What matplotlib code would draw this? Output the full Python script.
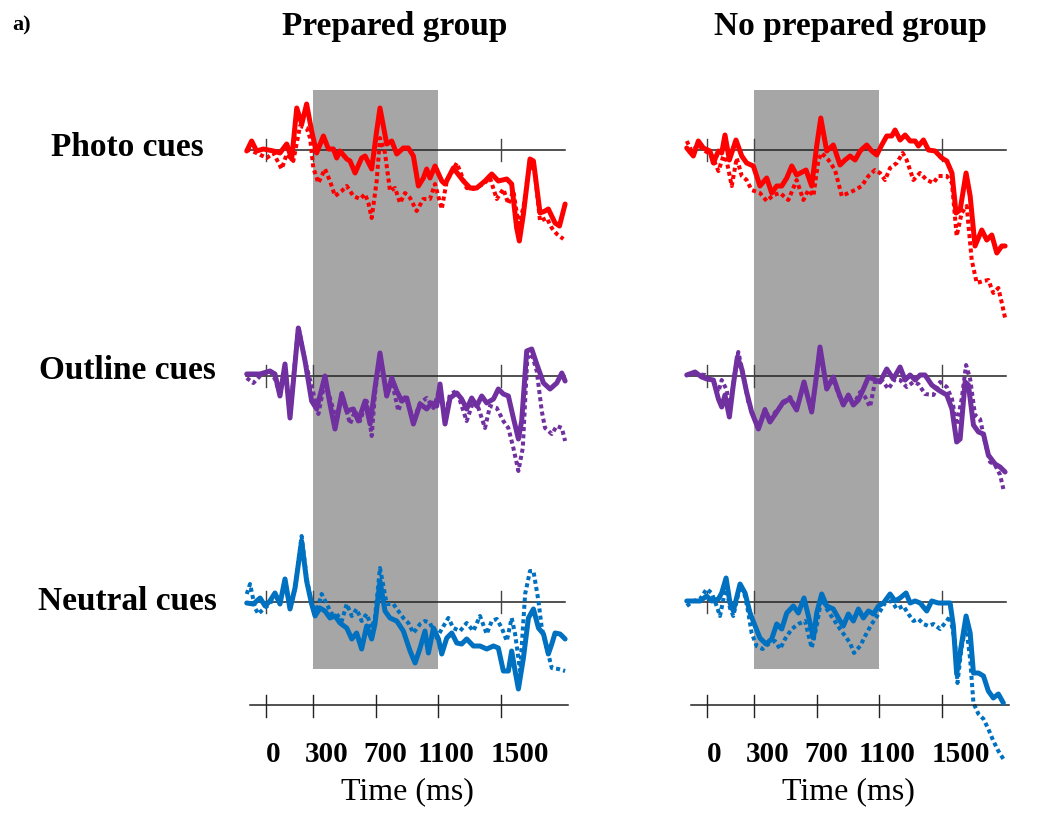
import matplotlib
matplotlib.use("Agg")
import matplotlib.pyplot as plt
from matplotlib.patches import Rectangle

# ---------------- data (time in ms, amplitude in µV) ----------------
groups = ["Prepared group", "No prepared group"]
conditions = ["Photo cues", "Outline cues", "Neutral cues"]
colors = ["#ff0000", "#7030a0", "#0070c0"]
tick_values = [0, 300, 700, 1100, 1500]
tick_labels = ["0", "300", "700", "1100", "1500"]
window_ms = [300, 1100]

# Prepared group
prep_photo_solid_t = [-123, -92, -60, -17, 47, 89, 132, 164, 196, 228, 259, 291, 323, 366, 398, 430, 451, 472, 515, 536, 568, 610, 632, 674, 706, 727, 770, 802, 834, 876, 908, 940, 972, 1004, 1025, 1046, 1078, 1121, 1142, 1195, 1259, 1302, 1344, 1397, 1440, 1482, 1536, 1567, 1599, 1616, 1642, 1684, 1706, 1748, 1780, 1801, 1844, 1872, 1908]
prep_photo_solid_v = [-0.1, 0.9, -0.1, 0.1, -0.1, -0.3, 0.6, -0.9, 4.2, 2.6, 4.6, 1.9, -0.3, 1.4, 0.1, 0.1, -0.8, -0.1, -0.9, -1.1, -2.3, -0.8, -0.6, -1.9, 1.9, 4.2, 0.6, 0.9, -0.4, 0.2, 0.2, -0.6, -3.6, -2.8, -1.9, -2.8, -1.6, -3.1, -3.4, -1.8, -3.1, -3.8, -3.8, -3.1, -2.4, -3.1, -2.9, -3.4, -7.8, -9.1, -6.4, -0.9, -1.1, -6.3, -6.1, -5.9, -7.3, -7.6, -5.4]
prep_photo_dot_t = [-123, -60, 4, 47, 100, 132, 174, 217, 259, 281, 302, 334, 376, 408, 440, 483, 515, 557, 600, 632, 653, 674, 706, 727, 759, 791, 823, 855, 887, 919, 961, 1004, 1046, 1078, 1121, 1153, 1217, 1280, 1323, 1387, 1429, 1472, 1514, 1546, 1578, 1610, 1642, 1684, 1716, 1748, 1791, 1823, 1855, 1897]
prep_photo_dot_v = [0.1, -0.3, -0.8, -0.3, -1.9, -0.4, -1.1, 2.4, 2.2, 1.2, -1.8, -3.3, -1.9, -3.1, -4.6, -4.1, -3.6, -4.6, -4.9, -4.4, -5.3, -6.8, -3.1, 1.2, -0.3, -4.1, -3.8, -5.3, -4.3, -4.8, -6.1, -4.9, -4.9, -3.4, -5.9, -3.1, -1.3, -3.8, -3.9, -3.4, -2.8, -4.9, -3.9, -5.4, -4.1, -7.4, -5.8, -1.1, -2.4, -7.1, -6.8, -7.8, -8.4, -8.9]

prep_outline_solid_t = [-123, -38, 25, 57, 89, 121, 153, 206, 249, 291, 323, 376, 408, 440, 483, 515, 557, 589, 632, 664, 695, 727, 770, 802, 834, 866, 898, 940, 983, 1025, 1057, 1089, 1110, 1142, 1174, 1217, 1248, 1280, 1312, 1344, 1376, 1408, 1451, 1482, 1514, 1546, 1578, 1610, 1631, 1663, 1695, 1727, 1770, 1812, 1855, 1887, 1908]
prep_outline_solid_v = [0.2, 0.2, 0.5, 0.2, -2.0, 1.2, -4.2, 4.8, 1.5, -2.5, -3.3, 0.0, -2.8, -5.3, -1.8, -3.5, -3.3, -4.5, -2.5, -4.8, -1.2, 2.3, -2.0, -0.2, -1.5, -2.5, -2.2, -4.8, -2.8, -3.3, -2.7, -3.0, -0.8, -4.8, -2.2, -1.7, -2.3, -3.3, -2.2, -3.0, -2.0, -2.7, -2.3, -1.3, -1.8, -2.0, -4.2, -6.3, -4.5, 2.5, 2.7, 1.2, -0.7, -1.3, -0.7, 0.3, -0.5]
prep_outline_dot_t = [-123, -81, -38, 25, 57, 89, 121, 153, 206, 249, 291, 334, 376, 419, 451, 483, 536, 568, 600, 642, 674, 695, 727, 770, 802, 844, 876, 908, 940, 983, 1025, 1068, 1110, 1142, 1174, 1217, 1280, 1323, 1355, 1397, 1429, 1472, 1514, 1546, 1578, 1610, 1638, 1667, 1695, 1727, 1759, 1780, 1823, 1855, 1887, 1908]
prep_outline_dot_v = [-0.2, -0.7, 0.0, 0.5, -0.3, -1.8, 0.8, -3.8, 5.0, 1.5, -1.0, -3.8, -0.5, -2.8, -4.5, -1.7, -4.8, -3.5, -4.5, -2.5, -6.0, -1.8, 2.2, -2.0, -0.5, -3.5, -2.0, -2.8, -4.5, -2.7, -2.2, -3.2, -1.2, -4.2, -1.8, -1.5, -4.5, -2.5, -3.2, -5.2, -3.0, -3.2, -4.5, -5.2, -7.2, -9.5, -7.2, 1.8, 2.2, 0.5, -3.5, -5.2, -5.8, -5.0, -5.2, -6.5]

prep_neutral_solid_t = [-123, -81, -38, -6, 25, 57, 89, 121, 153, 185, 227, 259, 291, 313, 344, 376, 408, 440, 472, 515, 547, 578, 610, 642, 674, 695, 727, 759, 791, 834, 876, 919, 951, 983, 1014, 1036, 1068, 1100, 1121, 1153, 1185, 1217, 1248, 1280, 1323, 1365, 1408, 1451, 1482, 1514, 1546, 1567, 1589, 1610, 1642, 1674, 1706, 1738, 1770, 1801, 1823, 1844, 1876, 1908]
prep_neutral_solid_v = [-0.1, -0.2, 0.4, -0.4, 0.1, 0.9, -0.2, 2.3, -0.7, 1.4, 6.1, 2.1, -0.2, -1.4, -0.6, -0.9, -1.6, -1.4, -2.1, -2.6, -3.7, -3.1, -4.7, -2.4, -3.7, -2.2, 2.1, -0.9, -1.6, -1.9, -2.9, -4.9, -6.1, -4.6, -2.9, -5.1, -2.6, -3.7, -5.2, -3.6, -3.1, -4.1, -4.2, -3.7, -4.4, -4.4, -4.7, -4.4, -4.6, -6.9, -6.9, -4.9, -6.9, -8.7, -5.6, -1.6, -0.7, -2.6, -3.2, -5.2, -4.2, -3.1, -3.2, -3.7]
prep_neutral_dot_t = [-123, -102, -70, -49, -17, 25, 57, 89, 121, 153, 185, 227, 259, 291, 323, 355, 387, 419, 451, 483, 515, 547, 578, 610, 642, 674, 695, 727, 770, 812, 844, 876, 908, 940, 983, 1014, 1046, 1089, 1121, 1163, 1195, 1238, 1280, 1323, 1365, 1408, 1440, 1472, 1504, 1536, 1567, 1589, 1621, 1653, 1684, 1706, 1738, 1759, 1791, 1823, 1865, 1908]
prep_neutral_dot_v = [0.8, 1.8, -0.6, -1.2, -0.7, -0.2, 0.8, -0.2, 2.1, -0.6, 1.4, 6.6, 2.4, -0.2, -0.9, 0.8, -0.2, -1.2, -1.2, -1.9, -0.2, -1.4, -0.7, -1.9, -1.2, -2.6, -1.6, 3.4, -0.2, -0.2, -0.9, -1.6, -2.1, -3.1, -2.2, -1.9, -2.1, -3.6, -2.7, -1.6, -2.6, -2.9, -2.1, -2.9, -1.4, -3.2, -1.9, -1.7, -2.6, -3.9, -1.6, -3.2, -6.9, 0.8, 3.1, 3.1, 0.1, -2.6, -4.6, -6.6, -6.7, -6.9]

# No prepared group
noprep_photo_solid_t = [-129, -87, -55, -23, 19, 41, 73, 94, 115, 143, 185, 222, 253, 296, 338, 381, 413, 445, 477, 509, 541, 572, 632, 668, 700, 726, 764, 806, 849, 881, 913, 945, 977, 1019, 1051, 1083, 1115, 1147, 1179, 1200, 1232, 1264, 1296, 1328, 1349, 1381, 1413, 1455, 1498, 1530, 1563, 1589, 1615, 1653, 1679, 1710, 1753, 1785, 1817, 1849, 1881, 1902]
noprep_photo_solid_v = [0.2, -0.6, 0.9, 0.2, -0.1, -1.3, -0.1, -0.3, 1.5, -1.0, 1.0, -0.6, -1.3, -1.6, -3.6, -2.8, -4.3, -3.6, -3.6, -2.8, -1.6, -2.5, -2.0, -3.6, 0.4, 3.2, -0.1, 0.5, -1.5, -1.0, -0.6, -1.0, -0.1, 0.5, -0.1, -0.5, 0.5, 1.4, 1.4, 2.0, 1.0, 1.5, 0.9, 0.9, 0.4, 1.0, 0.0, -0.1, -0.8, -1.1, -2.3, -6.3, -6.0, -2.3, -4.6, -9.6, -8.0, -9.0, -8.5, -10.3, -9.6, -9.6]
noprep_photo_dot_t = [-129, -98, -55, -12, 30, 73, 105, 126, 158, 190, 222, 253, 285, 338, 381, 424, 466, 519, 572, 615, 647, 679, 711, 732, 775, 817, 860, 902, 945, 987, 1030, 1072, 1104, 1136, 1168, 1211, 1249, 1274, 1317, 1359, 1402, 1445, 1476, 1530, 1563, 1593, 1625, 1657, 1689, 1721, 1764, 1795, 1827, 1859, 1881, 1902]
noprep_photo_dot_v = [0.9, -0.1, 0.5, -0.1, -0.5, -2.1, -0.6, -1.1, -3.6, -0.8, -2.6, -3.0, -4.0, -4.3, -5.1, -4.5, -4.3, -5.0, -3.0, -5.0, -4.0, -4.6, -1.0, -0.3, -1.0, -2.0, -4.6, -4.3, -4.0, -3.6, -2.6, -2.0, -2.3, -3.0, -1.8, -1.3, -0.3, -1.0, -3.0, -2.3, -3.0, -3.3, -2.6, -2.6, -3.3, -8.6, -6.3, -5.6, -11.0, -13.3, -13.1, -13.0, -14.3, -13.8, -15.3, -16.8]

noprep_outline_solid_t = [-129, -76, -34, 0, 41, 73, 94, 115, 143, 168, 194, 222, 253, 285, 328, 370, 402, 445, 487, 530, 572, 619, 668, 696, 721, 764, 806, 838, 870, 902, 934, 966, 998, 1030, 1062, 1104, 1147, 1189, 1232, 1264, 1296, 1328, 1360, 1391, 1434, 1476, 1530, 1563, 1593, 1615, 1647, 1668, 1700, 1732, 1764, 1795, 1838, 1870, 1902]
noprep_outline_solid_v = [0.1, 0.4, -0.1, -0.3, -0.4, -2.3, -3.1, -1.9, -4.1, -0.9, 1.9, 0.7, -1.6, -3.6, -5.3, -3.4, -4.6, -3.6, -2.6, -2.3, -3.4, -0.6, -3.6, -0.3, 2.9, -1.3, -0.1, -1.6, -2.9, -1.9, -2.9, -2.4, -1.3, -0.1, -0.3, -0.6, 0.7, -0.3, 0.9, -0.4, 0.1, -0.4, 0.1, 0.1, -0.9, -1.4, -1.9, -3.3, -6.6, -6.3, -0.6, -0.9, -4.9, -5.6, -5.8, -7.9, -8.8, -9.1, -9.6]
noprep_outline_dot_t = [-129, -76, -12, 41, 73, 94, 126, 147, 179, 200, 232, 264, 328, 370, 402, 445, 487, 530, 572, 619, 668, 696, 721, 764, 806, 838, 870, 902, 934, 977, 1009, 1040, 1072, 1115, 1157, 1200, 1232, 1274, 1317, 1349, 1391, 1445, 1487, 1530, 1563, 1593, 1625, 1653, 1679, 1710, 1742, 1774, 1806, 1838, 1870, 1891]
noprep_outline_dot_v = [0.1, 0.2, 0.1, -0.6, -1.6, -0.4, -1.4, -3.3, 0.4, 2.4, 0.1, -2.6, -5.3, -3.3, -4.4, -3.4, -2.8, -2.1, -3.3, -0.8, -3.6, -0.3, 2.7, -1.3, -0.3, -1.8, -2.9, -2.1, -2.9, -1.6, -2.1, -3.1, -0.6, -0.4, -1.3, -0.3, -0.4, -1.1, -0.6, -0.8, -1.8, -1.9, -0.6, -1.1, -2.3, -4.9, -2.3, 1.1, -0.3, -3.9, -4.3, -6.6, -8.6, -8.9, -9.9, -11.3]

noprep_neutral_solid_t = [-129, -44, -2, 30, 73, 94, 122, 147, 168, 211, 243, 275, 307, 338, 377, 413, 445, 477, 509, 551, 583, 619, 647, 679, 700, 732, 764, 806, 838, 870, 902, 934, 966, 998, 1030, 1062, 1094, 1126, 1168, 1200, 1232, 1270, 1296, 1328, 1360, 1402, 1434, 1476, 1519, 1551, 1572, 1593, 1625, 1653, 1679, 1700, 1732, 1764, 1795, 1827, 1859, 1891]
noprep_neutral_solid_v = [0.1, 0.1, 0.6, 0.1, 0.3, 0.9, 2.4, -0.1, -0.9, 1.8, 0.9, -1.1, -2.4, -3.6, -4.2, -3.7, -2.2, -2.7, -1.1, -0.4, -1.1, 0.4, -1.4, -3.6, -1.1, 0.8, -0.4, -0.7, -1.6, -2.4, -1.2, -1.9, -0.7, -1.6, -0.9, -1.2, -0.4, -0.1, 0.8, 0.1, 0.4, 0.9, -0.1, 0.1, -0.1, -0.9, 0.1, -0.1, -0.1, -0.1, -2.4, -7.2, -4.1, -1.4, -3.1, -7.1, -7.1, -7.4, -8.9, -9.6, -9.2, -10.1]
noprep_neutral_dot_t = [-129, -87, -44, -2, 30, 62, 83, 122, 147, 168, 211, 243, 264, 285, 317, 355, 392, 434, 466, 498, 541, 583, 626, 668, 700, 732, 764, 806, 849, 881, 913, 938, 977, 1019, 1051, 1094, 1136, 1179, 1211, 1253, 1285, 1317, 1349, 1381, 1413, 1445, 1487, 1530, 1551, 1583, 1598, 1625, 1653, 1679, 1700, 1732, 1764, 1795, 1827, 1859, 1891]
noprep_neutral_dot_v = [-0.4, 0.1, 0.3, 1.3, 0.9, -0.4, -1.4, 1.6, -0.6, -1.4, 1.6, 0.6, -1.1, -3.1, -4.4, -4.7, -4.2, -3.9, -4.7, -3.7, -2.7, -2.2, -1.9, -4.6, -2.4, 0.6, -0.7, -1.7, -2.7, -3.4, -4.1, -5.1, -4.4, -3.1, -2.2, -1.2, -0.1, 0.1, -0.7, -0.4, -1.2, -1.9, -1.7, -2.2, -2.4, -2.2, -2.7, -1.9, -1.4, -4.1, -8.1, -4.4, -2.4, -5.7, -10.1, -11.2, -11.7, -12.7, -13.9, -14.9, -15.7]

# ---------------- layout ----------------
W, H, DPI = 1058, 814, 100
SERIF = ["Liberation Serif", "DejaVu Serif"]
offsets = [0.0, -22.6, -45.2]       # vertical stacking of the three cue traces
axis_y = -55.5                       # level of the time axis

fig = plt.figure(figsize=(W / DPI, H / DPI), dpi=DPI)
fig.patch.set_facecolor("white")

panels = [
    dict(left=240, xlim=(-166, 2003), traces=[
        (prep_photo_solid_t, prep_photo_solid_v, prep_photo_dot_t, prep_photo_dot_v),
        (prep_outline_solid_t, prep_outline_solid_v, prep_outline_dot_t, prep_outline_dot_v),
        (prep_neutral_solid_t, prep_neutral_solid_v, prep_neutral_dot_t, prep_neutral_dot_v)]),
    dict(left=680, xlim=(-172, 1997), traces=[
        (noprep_photo_solid_t, noprep_photo_solid_v, noprep_photo_dot_t, noprep_photo_dot_v),
        (noprep_outline_solid_t, noprep_outline_solid_v, noprep_outline_dot_t, noprep_outline_dot_v),
        (noprep_neutral_solid_t, noprep_neutral_solid_v, noprep_neutral_dot_t, noprep_neutral_dot_v)]),
]

label_shift_ms = [45, 90, 64, 48, 118]

for gi, p in enumerate(panels):
    ax = fig.add_axes([p["left"] / W, 34 / H, 340 / W, 700 / H])
    ax.set_xlim(*p["xlim"])
    ax.set_ylim(-63, 7)
    ax.axis("off")

    # analysis window
    ax.add_patch(Rectangle((window_ms[0], -51.9), window_ms[1] - window_ms[0], 57.9,
                           facecolor="#a6a6a6", edgecolor="none", zorder=0))

    for ci, (st, sv, dt, dv) in enumerate(p["traces"]):
        off = offsets[ci]
        ax.plot([-125, 1910], [off, off], color="#222222", lw=1.1, zorder=1)
        for tv in (0, 300, 1500):
            ax.plot([tv, tv], [off - 1.1, off + 1.1], color="#444444", lw=1.0, zorder=1)
        ax.plot(dt, [v + off for v in dv], color=colors[ci], lw=2.9,
                linestyle=(0, (1, 0.8)), dash_capstyle="butt", zorder=2)
        ax.plot(st, [v + off for v in sv], color=colors[ci], lw=3.6,
                solid_joinstyle="round", solid_capstyle="round", zorder=3)

    # time axis
    ax.plot([-105, 1925], [axis_y, axis_y], color="#222222", lw=1.1)
    for tv, lab, sh in zip(tick_values, tick_labels, label_shift_ms):
        ax.plot([tv, tv], [axis_y - 1.2, axis_y + 1.0], color="#222222", lw=1.0)
        ax.text(tv + sh, -60.5, lab, ha="center", va="center", fontsize=21,
                fontweight="bold", family=SERIF)
    ax.text(905, -64.2, "Time (ms)", ha="center", va="center", fontsize=23,
            family=SERIF, clip_on=False)

# titles and row labels
fig.text(395 / W, 1 - 26 / H, groups[0], ha="center", va="center",
         fontsize=24, fontweight="bold", family=SERIF)
fig.text(850 / W, 1 - 26 / H, groups[1], ha="center", va="center",
         fontsize=24, fontweight="bold", family=SERIF)
for ci, name in enumerate(conditions):
    ypix = [148, 370, 602][ci]
    fig.text(127 / W, 1 - ypix / H, name, ha="center", va="center",
             fontsize=24, fontweight="bold", family=SERIF)
fig.text(22 / W, 1 - 25 / H, "a)", ha="center", va="center",
         fontsize=16, fontweight="bold", family=SERIF)

fig.savefig("out.png", dpi=DPI, facecolor="white")
